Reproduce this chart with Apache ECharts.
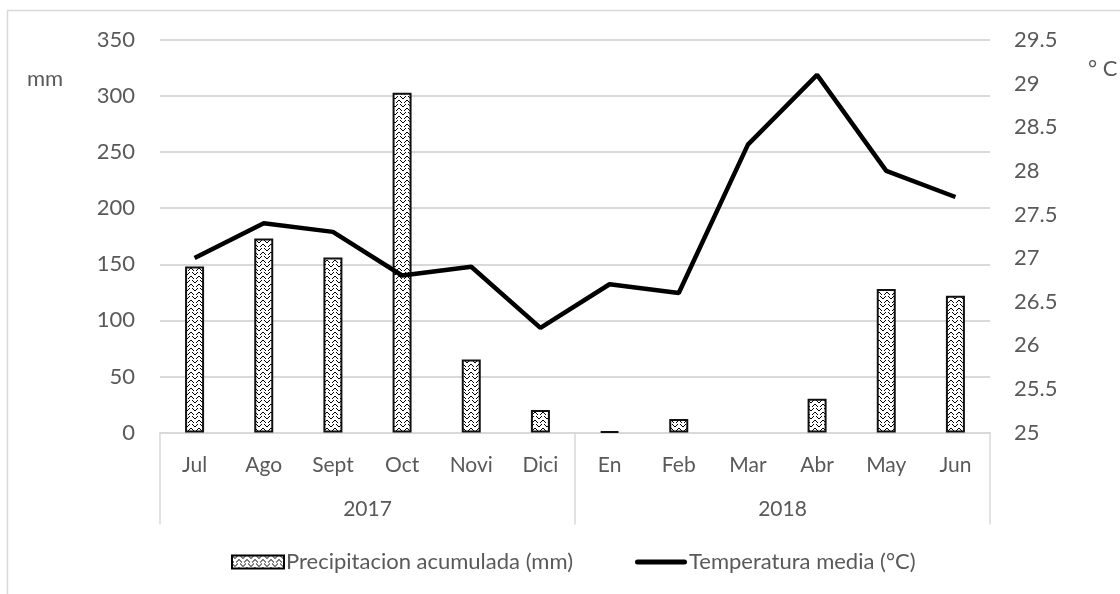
<!DOCTYPE html>
<html><head><meta charset="utf-8">
<script src="https://cdn.jsdelivr.net/npm/echarts@6/dist/echarts.min.js"></script>
<style>html,body{margin:0;padding:0;background:#fff}#c{width:1120px;height:594px}</style>
</head><body><div id="c"></div>
<script>
const months = ['Jul','Ago','Sept','Oct','Novi','Dici','En','Feb','Mar','Abr','May','Jun'];
const years = ['2017','2018'];
const precip = [148, 173, 156, 303, 65, 20, 1, 12, null, 30, 128, 122];
const temp = [27.0, 27.4, 27.3, 26.8, 26.9, 26.2, 26.7, 26.6, 28.3, 29.1, 28.0, 27.7];
const leftTicks = {min:0, max:350, interval:50};
const rightTicks = {min:25, max:29.5, interval:0.5};

function makePattern(){
  const c = document.createElement('canvas'); c.width = 8; c.height = 8;
  const g = c.getContext('2d');
  g.fillStyle = '#fff'; g.fillRect(0,0,8,8);
  g.fillStyle = '#000';
  const px = [[0,0],[1,1],[2,2],[3,2],[4,1],[5,0],
              [4,6],[5,5],[6,4],[7,4],[0,5],[1,6]];
  px.forEach(p=>g.fillRect(p[0],p[1],1,1));
  return c;
}
const pat = makePattern();
const FONT = 'Lato';
const TC = '#595959';
const chart = echarts.init(document.getElementById('c'), null, {renderer:'canvas'});
chart.setOption({
  animation:false,
  textStyle:{fontFamily:FONT},
  grid:{left:160, right:130, top:40, bottom:161.5, containLabel:false},
  legend:{
    bottom:16, left:226, itemWidth:52, itemHeight:13, itemGap:62,
    textStyle:{fontFamily:FONT, fontSize:22, color:TC, padding:[0,0,0,-3]},
    data:[
      {name:'Precipitacion acumulada (mm)', icon:'rect', itemStyle:{borderColor:'#000', borderWidth:2}},
      {name:'Temperatura media (°C)', icon:'path://M0,0 L0,0 M2.5,4 L49.5,4 A2.5,2.5 0 0 1 49.5,9 L2.5,9 A2.5,2.5 0 0 1 2.5,4 Z M52,13 L52,13'}
    ]
  },
  xAxis:[
    {type:'category', data:months, position:'bottom',
     axisLine:{lineStyle:{color:'#d9d9d9', width:2}}, axisTick:{show:false},
     axisLabel:{color:TC, fontSize:21, margin:22, fontFamily:FONT}},
    {type:'category', data:years, position:'bottom',
     axisLine:{show:false},
     axisTick:{show:true, length:92, alignWithLabel:false, lineStyle:{color:'#d9d9d9', width:1.5}},
     axisLabel:{color:TC, fontSize:21, margin:66, fontFamily:FONT}}
  ],
  yAxis:[
    {type:'value', min:leftTicks.min, max:leftTicks.max, interval:leftTicks.interval,
     axisLine:{show:false}, axisTick:{show:false},
     axisLabel:{color:TC, fontSize:22, margin:25, fontFamily:FONT},
     splitLine:{lineStyle:{color:'#d9d9d9', width:2}}},
    {type:'value', min:rightTicks.min, max:rightTicks.max, interval:rightTicks.interval,
     axisLine:{show:false}, axisTick:{show:false},
     axisLabel:{color:TC, fontSize:22, margin:24, fontFamily:FONT},
     splitLine:{show:false}}
  ],
  series:[
    {name:'Precipitacion acumulada (mm)', type:'bar', data:precip, xAxisIndex:0, yAxisIndex:0,
     barWidth:19,
     itemStyle:{color:{image:pat, repeat:'repeat'}, borderColor:'#111', borderWidth:2}},
    {name:'Temperatura media (°C)', type:'line', data:temp, xAxisIndex:0, yAxisIndex:1,
     symbol:'none', lineStyle:{color:'#000', width:4.5}, itemStyle:{color:'#000'}}
  ],
  graphic:[
    {type:'rect', shape:{x:7.5, y:10.5, width:1200, height:700}, style:{fill:'none', stroke:'#d9d9d9', lineWidth:1.5}, silent:true},
    {type:'text', left:27, top:68, style:{text:'mm', fontSize:22, fill:TC, fontFamily:FONT}},
    {type:'text', left:1088, top:58, style:{text:'° C', fontSize:22, fill:TC, fontFamily:FONT}}
  ]
});
</script></body></html>
